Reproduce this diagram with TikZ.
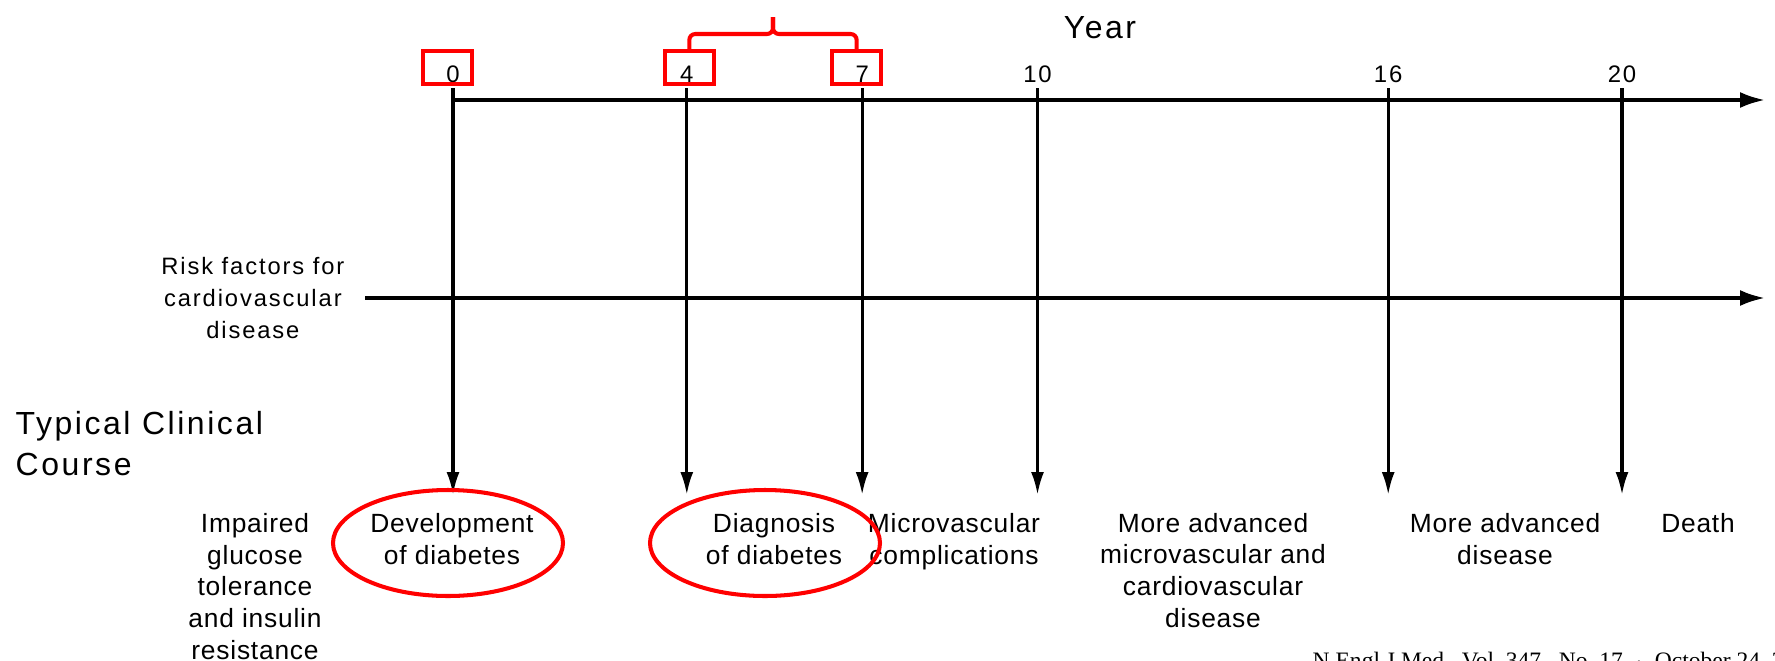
\documentclass[tikz,border=0pt]{standalone}
\usepackage{fontspec}
\setmainfont{Liberation Sans}
\newfontfamily\topfont[LetterSpace=8]{Liberation Sans}
\newfontfamily\lowfont[LetterSpace=3]{Liberation Sans}
\newfontfamily\journalfont{Liberation Serif}
\usetikzlibrary{arrows.meta,calc,positioning}

\tikzset{
  axis/.style={line width=1pt,-{Latex[length=2.5mm,width=1.6mm]}},
  drop/.style={line width=0.9pt,-{Latex[length=2.3mm,width=1.3mm]}},
  redline/.style={red,line width=1.15pt},
  redbox/.style={draw=red,line width=1.15pt,minimum width=0.49cm,minimum height=0.33cm,inner sep=0pt},
  yearlbl/.style={font=\topfont\fontsize{6.8}{8}\selectfont,anchor=base,inner sep=0pt},
  bigtxt/.style={font=\topfont\fontsize{9.1}{11.4}\selectfont,inner sep=0pt},
  risktxt/.style={font=\topfont\fontsize{6.75}{9}\selectfont,align=center,inner sep=0pt},
  eventtxt/.style={font=\lowfont\fontsize{7.5}{9}\selectfont,align=center,anchor=base,inner sep=0pt}
}

\begin{document}
\begin{tikzpicture}
  \clip (0,0) rectangle (17.75,6.60);

  % time axis
  \coordinate (ys) at (4.53,5.60);
  \coordinate (ye) at (17.65,5.60);
  \draw[axis] (ys) -- (ye);
  \node[bigtxt,anchor=base] (year) at (11.00,6.22) {Year};

  \foreach \yr in {0,4,7,10,16,20} {
    \coordinate (top\yr) at ({4.53+0.5845*\yr},5.72);
    \coordinate (tip\yr) at ({4.53+0.5845*\yr},1.65);
    \draw[drop] (top\yr) -- (tip\yr);
    \node[yearlbl] (lbl\yr) at ({4.53+0.5845*\yr},5.78) {\yr};
  }

  % boxes and brace
  \foreach \yr/\dx in {0/-0.055,4/0.025,7/-0.055}
    \node[redbox] (box\yr) at ({4.53+0.5845*\yr+\dx},5.925) {};
  \coordinate (bm) at (7.73,6.26);
  \coordinate (bt) at (7.73,6.43);
  \draw[redline,rounded corners=0.06cm] (box4.north) |- (bm) -- (bt);
  \draw[redline,rounded corners=0.06cm] (box7.north) |- (bm) -- (bt);

  % risk factors
  \coordinate (rs) at (3.65,3.62);
  \coordinate (re) at (17.65,3.62);
  \draw[axis] (rs) -- (re);
  \node[risktxt,left=0.2cm of rs] (risk) {Risk factors for\\cardiovascular\\disease};

  \node[bigtxt,align=left,anchor=base west] (course) at (0.15,1.85) {Typical Clinical\\Course};

  % events (base = last line)
  \node[eventtxt] (igt) at (2.55,0.01) {Impaired\\glucose\\tolerance\\and insulin\\resistance};
  \node[eventtxt] (dev) at (4.52,0.96) {Development\\of diabetes};
  \node[eventtxt] (diag) at (7.74,0.96) {Diagnosis\\of diabetes};
  \node[eventtxt] (micro) at (9.54,0.96) {Microvascular\\complications};
  \node[eventtxt] (adv) at (12.13,0.33) {More advanced\\microvascular and\\cardiovascular\\disease};
  \node[eventtxt] (advd) at (15.05,0.96) {More advanced\\disease};
  \node[eventtxt] (death) at (16.98,1.28) {Death};

  \draw[redline] (4.48,1.17) ellipse [x radius=1.15, y radius=0.53];
  \draw[redline] (7.65,1.17) ellipse [x radius=1.15, y radius=0.53];

  \node[font=\journalfont\fontsize{6.7}{8}\selectfont,anchor=base west,inner sep=0pt] (cite) at (13.12,-0.08)
    {N Engl J Med,\ \ Vol.\ 347,\ \ No.\ 17\ \ $\cdot$\ \ October 24, 2002};
\end{tikzpicture}
\end{document}
